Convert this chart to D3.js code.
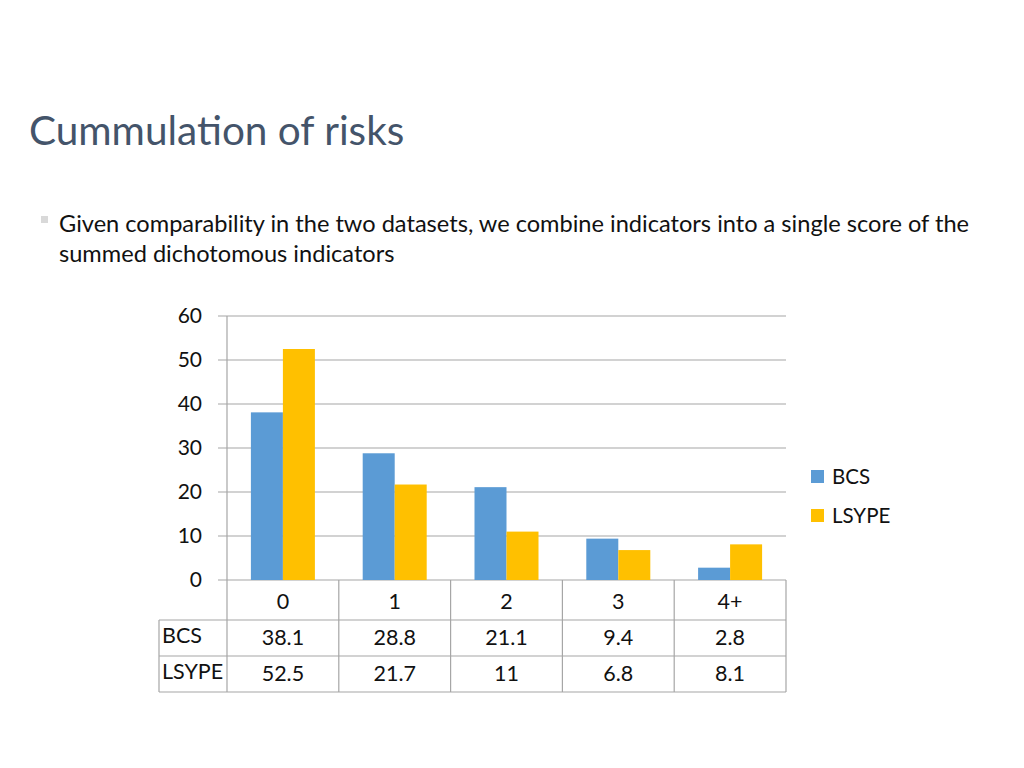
<!DOCTYPE html>
<html><head><meta charset="utf-8">
<script src="https://cdn.jsdelivr.net/npm/d3@7"></script>
<style>body{margin:0;background:#fff;} svg{display:block;}</style>
</head><body>
<svg id="c" width="1024" height="768"></svg>
<script>
const categories = ["0", "1", "2", "3", "4+"];
const seriesNames = ["BCS", "LSYPE"];
const bcsValues = [38.1, 28.8, 21.1, 9.4, 2.8];
const lsypeValues = [52.5, 21.7, 11, 6.8, 8.1];
const yTicks = [0, 10, 20, 30, 40, 50, 60];
const colors = ["#5B9BD5", "#FFC000"];
const title = "Cummulation of risks";
const bulletLines = ["Given comparability in the two datasets, we combine indicators into a single score of the", "summed dichotomous indicators"];

(function () {
const FONT = "Lato, 'Open Sans', sans-serif";
const svg = d3.select("#c");
const series = [bcsValues, lsypeValues];

svg.append("text").attr("x", 29).attr("y", 145).attr("font-family", FONT)
  .attr("font-size", 40.5).attr("fill", "#44546A").text(title);

svg.append("rect").attr("x", 41).attr("y", 216).attr("width", 7).attr("height", 7).attr("fill", "#d9d9d9");
bulletLines.forEach((l, i) => svg.append("text").attr("x", 59).attr("y", 232 + i * 30)
  .attr("font-family", FONT).attr("font-size", 23.6).attr("fill", "#111").text(l));

const pl = 227, pr = 786, pt = 316, pb = 580;
const x = d3.scaleBand().domain(categories).range([pl, pr]);
const y = d3.scaleLinear().domain([0, 60]).range([pb, pt]);
const grid = "#a6a6a6";

svg.append("g").selectAll("line").data(yTicks).join("line")
  .attr("x1", pl - 9).attr("x2", pr).attr("y1", d => y(d)).attr("y2", d => y(d))
  .attr("stroke", grid).attr("stroke-width", 1.2);
svg.append("line").attr("x1", pl).attr("x2", pl).attr("y1", pt).attr("y2", pb)
  .attr("stroke", grid).attr("stroke-width", 1.2);

const yAxis = svg.append("g").attr("transform", `translate(${pl - 25},0)`)
  .call(d3.axisLeft(y).tickValues(yTicks).tickSize(0).tickPadding(0));
yAxis.select(".domain").remove();
yAxis.selectAll("text").attr("font-family", FONT).attr("font-size", 21).attr("fill", "#111");

const barW = 32;
series.forEach((vals, si) => {
  svg.append("g").selectAll("rect").data(vals).join("rect")
    .attr("x", (d, i) => x(categories[i]) + x.bandwidth() / 2 - barW + si * barW)
    .attr("width", barW)
    .attr("y", d => y(d)).attr("height", d => y(0) - y(d))
    .attr("fill", colors[si]);
});

seriesNames.forEach((n, i) => {
  svg.append("rect").attr("x", 811).attr("y", 470 + i * 39).attr("width", 13).attr("height", 13).attr("fill", colors[i]);
  svg.append("text").attr("x", 832).attr("y", 484 + i * 39).attr("font-family", FONT)
    .attr("font-size", 20.5).attr("fill", "#111").text(n);
});

const rowY = [580, 620, 656, 692];
const tableLeft = 159;
const tg = svg.append("g").attr("stroke", grid).attr("stroke-width", 1.2);
[pl, ...categories.map(c => x(c) + x.bandwidth())].forEach(xx => {
  tg.append("line").attr("x1", xx).attr("x2", xx).attr("y1", rowY[0]).attr("y2", rowY[3]);
});
tg.append("line").attr("x1", tableLeft).attr("x2", tableLeft).attr("y1", rowY[1]).attr("y2", rowY[3]);
[1, 2, 3].forEach(r => tg.append("line").attr("x1", tableLeft).attr("x2", pr).attr("y1", rowY[r]).attr("y2", rowY[r]));

const cellText = (tx, ty, t, anchor) => svg.append("text").attr("x", tx).attr("y", ty)
  .attr("text-anchor", anchor).attr("font-family", FONT).attr("font-size", 21.5).attr("fill", "#111").text(t);
categories.forEach(c => cellText(x(c) + x.bandwidth() / 2, 609, c, "middle"));
series.forEach((vals, si) => {
  cellText(162, 643 + si * 36, seriesNames[si], "start");
  vals.forEach((v, i) => cellText(x(categories[i]) + x.bandwidth() / 2, 645 + si * 36, String(v), "middle"));
});
})();
</script>
</body></html>
